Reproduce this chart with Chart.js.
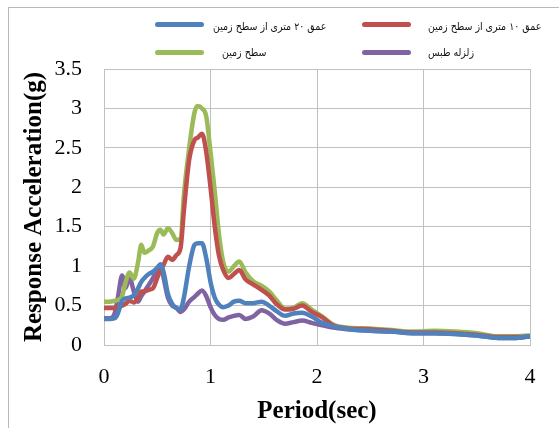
<!DOCTYPE html>
<html>
<head>
<meta charset="utf-8">
<script src="https://cdn.jsdelivr.net/npm/chart.js@4/dist/chart.umd.min.js"></script>
<style>
  html, body { margin: 0; padding: 0; background: #fff; }
  #wrap { position: relative; width: 559px; height: 428px; overflow: hidden; }
  #c { position: absolute; left: 0; top: 0; }
  .frameTop { position: absolute; left: 8px; top: 7px; width: 560px; height: 0; border-top: 1px solid #b8b8b8; }
  .frameLeft { position: absolute; left: 8px; top: 7px; width: 0; height: 430px; border-left: 1px solid #b8b8b8; }
  .sw { position: absolute; height: 5px; width: 49px; border-radius: 3px; }
  .lt { position: absolute; font-family: "DejaVu Sans Condensed", "DejaVu Sans", sans-serif; font-size: 10.5px; color: #111; white-space: nowrap; direction: rtl; line-height: 14px; }
</style>
</head>
<body>
<div id="wrap">
  <canvas id="c" width="559" height="428"></canvas>
  <div class="frameTop"></div>
  <div class="frameLeft"></div>
  <div id="legend"></div>
</div>
<script>
// ---- data ----
const seriesNames = ["عمق ۲۰ متری از سطح زمین", "عمق ۱۰ متری از سطح زمین", "سطح زمین", "زلزله طبس"];
const seriesColors = ["#4F81BD", "#C0504D", "#9BBB59", "#8064A2"];

const periods = [0, 0.05, 0.1, 0.13, 0.17, 0.2, 0.24, 0.28, 0.32, 0.35, 0.38, 0.42, 0.46, 0.5, 0.53, 0.56, 0.6, 0.64, 0.68, 0.72, 0.75, 0.8, 0.85, 0.88, 0.92, 0.96, 1.0, 1.04, 1.08, 1.12, 1.17, 1.22, 1.27, 1.33, 1.4, 1.48, 1.55, 1.62, 1.7, 1.78, 1.86, 1.95, 2.05, 2.15, 2.3, 2.5, 2.7, 2.9, 3.1, 3.3, 3.5, 3.7, 3.85, 4.0];

const depth20 = [0.33, 0.33, 0.34, 0.40, 0.56, 0.59, 0.60, 0.63, 0.72, 0.80, 0.85, 0.90, 0.93, 0.98, 1.02, 0.92, 0.65, 0.52, 0.47, 0.46, 0.60, 1.00, 1.27, 1.29, 1.29, 1.10, 0.80, 0.60, 0.51, 0.48, 0.50, 0.55, 0.56, 0.53, 0.53, 0.55, 0.50, 0.43, 0.37, 0.40, 0.41, 0.36, 0.28, 0.24, 0.20, 0.18, 0.17, 0.15, 0.15, 0.14, 0.12, 0.09, 0.09, 0.11];

const depth10 = [0.47, 0.47, 0.47, 0.48, 0.50, 0.52, 0.56, 0.54, 0.60, 0.68, 0.68, 0.70, 0.72, 0.85, 0.95, 1.02, 1.12, 1.08, 1.14, 1.24, 1.70, 2.35, 2.60, 2.63, 2.68, 2.45, 2.00, 1.50, 1.13, 0.95, 0.85, 0.90, 0.95, 0.83, 0.77, 0.70, 0.63, 0.52, 0.45, 0.46, 0.50, 0.42, 0.35, 0.25, 0.21, 0.20, 0.18, 0.16, 0.16, 0.15, 0.13, 0.10, 0.10, 0.11];

const surface = [0.55, 0.55, 0.56, 0.57, 0.62, 0.78, 0.92, 0.84, 1.05, 1.27, 1.17, 1.20, 1.25, 1.42, 1.46, 1.40, 1.48, 1.42, 1.33, 1.35, 1.90, 2.50, 2.95, 3.03, 3.00, 2.90, 2.45, 1.95, 1.40, 1.05, 0.93, 1.00, 1.06, 0.92, 0.81, 0.75, 0.68, 0.57, 0.46, 0.47, 0.53, 0.45, 0.36, 0.26, 0.22, 0.21, 0.19, 0.17, 0.18, 0.17, 0.15, 0.11, 0.11, 0.12];

const tabas = [0.34, 0.34, 0.40, 0.60, 0.88, 0.72, 0.85, 0.68, 0.55, 0.62, 0.68, 0.76, 0.85, 0.96, 1.02, 0.85, 0.60, 0.50, 0.47, 0.42, 0.45, 0.55, 0.61, 0.65, 0.69, 0.62, 0.48, 0.38, 0.33, 0.32, 0.35, 0.37, 0.38, 0.33, 0.36, 0.44, 0.40, 0.32, 0.27, 0.29, 0.31, 0.28, 0.25, 0.22, 0.20, 0.18, 0.17, 0.15, 0.15, 0.14, 0.12, 0.09, 0.09, 0.11];

const xTicks = [0, 1, 2, 3, 4];
const yTicks = [0, 0.5, 1, 1.5, 2, 2.5, 3, 3.5];
const xTitle = "Period(sec)";
const yTitle = "Response Acceleration(g)";

// ---- chart ----
const allSeries = [depth20, depth10, surface, tabas];
const datasets = allSeries.map((vals, i) => ({
  label: seriesNames[i],
  data: periods.map((p, k) => ({ x: p, y: vals[k] })),
  borderColor: seriesColors[i],
  backgroundColor: seriesColors[i],
  borderWidth: 4.5,
  pointRadius: 0,
  cubicInterpolationMode: 'monotone',
  borderCapStyle: 'round',
  borderJoinStyle: 'round',
  fill: false
}));

const gridColor = '#c0c0c0';
new Chart(document.getElementById('c'), {
  type: 'line',
  data: { datasets },
  options: {
    responsive: false,
    devicePixelRatio: 1,
    animation: false,
    events: [],
    layout: { padding: { left: 0, top: 69, right: 29, bottom: 0 } },
    plugins: { legend: { display: false }, tooltip: { enabled: false } },
    scales: {
      x: {
        type: 'linear', min: 0, max: 4,
        afterBuildTicks: s => { s.ticks = xTicks.map(v => ({ value: v })); },
        afterFit: s => { s.height = 83; },
        ticks: { color: '#000', padding: 19, font: { family: 'Liberation Serif', size: 22 }, callback: v => String(v) },
        grid: { color: gridColor, drawTicks: false, lineWidth: 1 },
        border: { color: gridColor },
        title: { display: true, text: xTitle, color: '#000', padding: { top: 0, bottom: 1 }, font: { family: 'Liberation Serif', size: 25, weight: 'bold' } }
      },
      y: {
        type: 'linear', min: 0, max: 3.5,
        afterBuildTicks: s => { s.ticks = yTicks.map(v => ({ value: v })); },
        afterFit: s => { s.width = 104; },
        ticks: { color: '#000', padding: 22, font: { family: 'Liberation Serif', size: 22 }, callback: v => String(v) },
        grid: { color: gridColor, drawTicks: false, lineWidth: 1 },
        border: { color: gridColor },
        title: { display: true, text: yTitle, color: '#000', padding: { top: 20, bottom: 0 }, font: { family: 'Liberation Serif', size: 25, weight: 'bold' } }
      }
    }
  }
});

// ---- legend (2 x 2 grid) ----
const legendSlots = [
  { sx: 155, sy: 22, tx: 213, ty: 19 },
  { sx: 362, sy: 22, tx: 428, ty: 19 },
  { sx: 155, sy: 50, tx: 222, ty: 45 },
  { sx: 362, sy: 50, tx: 428, ty: 45 }
];
const leg = document.getElementById('legend');
legendSlots.forEach((s, i) => {
  const sw = document.createElement('div');
  sw.className = 'sw';
  sw.style.left = s.sx + 'px'; sw.style.top = s.sy + 'px';
  sw.style.background = seriesColors[i];
  leg.appendChild(sw);
  const t = document.createElement('div');
  t.className = 'lt';
  t.style.left = s.tx + 'px'; t.style.top = s.ty + 'px';
  t.textContent = seriesNames[i];
  leg.appendChild(t);
});
</script>
</body>
</html>
